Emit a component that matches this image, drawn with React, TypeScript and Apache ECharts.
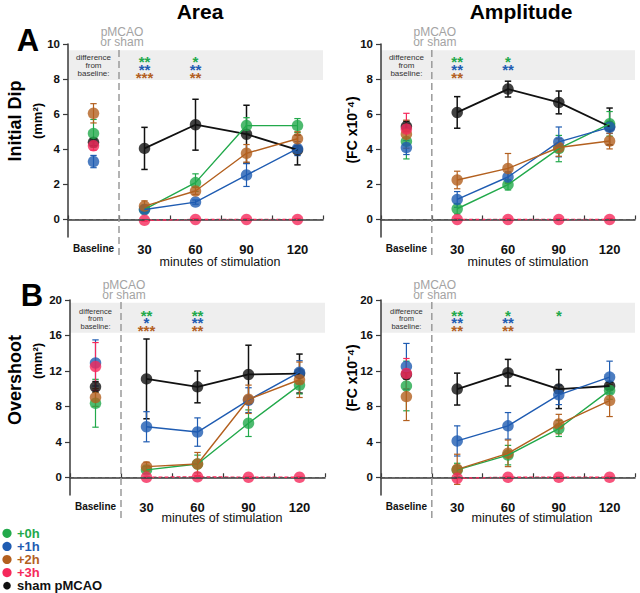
import React, { useEffect, useRef } from 'react';
import * as echarts from 'echarts';

// ---------- data ----------
const categories = ['Baseline', '30', '60', '90', '120'];
const yTicksDip = [0, 2, 4, 6, 8, 10];
const yTicksOvershoot = [0, 4, 8, 12, 16, 20];
const legendNames = ['+0h', '+1h', '+2h', '+3h', 'sham pMCAO'];

// A – Area, Initial Dip (mm²)
const areaDip0h = [4.9, 0.57, 2.1, 5.35, 5.35];
const areaDip0hErr = [0.8, 0.2, 0.5, 0.45, 0.4];
const areaDip1h = [3.3, 0.57, 0.99, 2.53, 4.04];
const areaDip1hErr = [0.35, 0.15, 0.12, 0.65, 0.4];
const areaDip2h = [6.05, 0.76, 1.62, 3.77, 4.6];
const areaDip2hErr = [0.55, 0.3, 0.2, 0.5, 0.4];
const areaDip3h = [4.2, -0.05, 0, 0, 0];
const areaDip3hErr = [0.25, 0.05, 0.05, 0.05, 0.05];
const areaDipSham = [4.4, 4.05, 5.4, 4.86, 3.96];
const areaDipShamErr = [0.2, 1.2, 1.45, 1.65, 0.85];

// A – Amplitude, Initial Dip (FC x10^-4)
const ampDip0h = [4.45, 0.61, 1.98, 4.04, 5.45];
const ampDip0hErr = [1.0, 0.3, 0.3, 0.75, 0.7];
const ampDip1h = [4.1, 1.14, 2.42, 4.42, 5.25];
const ampDip1hErr = [0.4, 0.45, 0.3, 0.85, 0.35];
const ampDip2h = [4.86, 2.25, 2.91, 4.1, 4.47];
const ampDip2hErr = [0.8, 0.5, 0.85, 0.5, 0.45];
const ampDip3h = [5.15, 0, 0, 0, 0];
const ampDip3hErr = [0.9, 0.05, 0.05, 0.05, 0.05];
const ampDipSham = [5.3, 6.1, 7.43, 6.67, 5.3];
const ampDipShamErr = [0.3, 0.9, 0.45, 0.65, 1.05];

// B – Area, Overshoot (mm²)
const areaOv0h = [8.35, 0.83, 1.5, 6.1, 10.4];
const areaOv0hErr = [2.7, 0.4, 1.0, 1.5, 1.0];
const areaOv1h = [12.9, 5.7, 5.1, 8.7, 11.85];
const areaOv1hErr = [2.6, 1.7, 1.6, 1.4, 1.3];
const areaOv2h = [9.0, 1.2, 1.5, 8.8, 11.0];
const areaOv2hErr = [1.0, 0.5, 1.3, 1.6, 2.0];
const areaOv3h = [12.5, 0, 0.05, 0, 0];
const areaOv3hErr = [2.7, 0.05, 0.05, 0.05, 0.05];
const areaOvSham = [10.2, 11.1, 10.2, 11.6, 11.7];
const areaOvShamErr = [0.6, 4.5, 1.8, 3.3, 2.2];

// B – Amplitude, Overshoot (FC x10^-4)
const ampOv0h = [10.3, 0.83, 2.5, 5.5, 9.8];
const ampOv0hErr = [2.8, 0.75, 1.1, 0.9, 1.0];
const ampOv1h = [12.5, 4.1, 5.8, 9.3, 11.3];
const ampOv1hErr = [2.6, 1.7, 1.5, 1.1, 1.8];
const ampOv2h = [9.1, 0.9, 2.7, 6.0, 8.65];
const ampOv2hErr = [2.7, 1.7, 1.5, 1.1, 1.8];
const ampOv3h = [11.7, -0.1, 0, 0, 0];
const ampOv3hErr = [1.7, 0.05, 0.05, 0.05, 0.05];
const ampOvSham = [11.6, 9.95, 11.8, 9.95, 10.3];
const ampOvShamErr = [0.5, 1.8, 1.5, 2.2, 0.4];

// significance vs baseline per category: rows = [+0h, +1h, +2h]
const areaDipStars: Record<number, string[]> = { 1: ['**', '**', '***'], 2: ['*', '**', '**'] };
const ampDipStars: Record<number, string[]> = { 1: ['**', '**', '**'], 2: ['*', '**', ''] };
const areaOvStars: Record<number, string[]> = { 1: ['**', '*', '***'], 2: ['**', '**', '**'] };
const ampOvStars: Record<number, string[]> = { 1: ['**', '**', '**'], 2: ['*', '**', '**'], 3: ['*', '', ''] };

// ---------- styles ----------
const FONT = '"Liberation Sans", Arial, Helvetica, sans-serif';
const C_SHAM = '#111111';
const C_0H = '#22a94b';
const C_1H = '#1f5cb2';
const C_2H = '#b3601f';
const C_3H = '#f5295b';
const groupColors = [C_0H, C_1H, C_2H, C_3H, C_SHAM];

type Panel = {
  left: number; top: number; width: number; height: number;
  min: number; max: number; ticks: number[]; band: [number, number];
  groups: [number[], number[]][]; // order: +0h,+1h,+2h,+3h,sham
  stars: Record<number, string[]>;
  rowY0: number; rowDy: number;
};

const panels: Panel[] = [
  {
    left: 68, top: 44, width: 255, height: 193, min: -1, max: 10, ticks: yTicksDip, band: [7.95, 9.65],
    groups: [[areaDip0h, areaDip0hErr], [areaDip1h, areaDip1hErr], [areaDip2h, areaDip2hErr], [areaDip3h, areaDip3hErr], [areaDipSham, areaDipShamErr]],
    stars: areaDipStars, rowY0: 57, rowDy: 8,
  },
  {
    left: 381, top: 44, width: 254, height: 193, min: -1, max: 10, ticks: yTicksDip, band: [7.95, 9.65],
    groups: [[ampDip0h, ampDip0hErr], [ampDip1h, ampDip1hErr], [ampDip2h, ampDip2hErr], [ampDip3h, ampDip3hErr], [ampDipSham, ampDipShamErr]],
    stars: ampDipStars, rowY0: 57, rowDy: 8,
  },
  {
    left: 70, top: 300, width: 255, height: 195, min: -2, max: 20, ticks: yTicksOvershoot, band: [16.3, 19.7],
    groups: [[areaOv0h, areaOv0hErr], [areaOv1h, areaOv1hErr], [areaOv2h, areaOv2hErr], [areaOv3h, areaOv3hErr], [areaOvSham, areaOvShamErr]],
    stars: areaOvStars, rowY0: 311, rowDy: 7.5,
  },
  {
    left: 381, top: 300, width: 254, height: 195, min: -2, max: 20, ticks: yTicksOvershoot, band: [16.3, 19.7],
    groups: [[ampOv0h, ampOv0hErr], [ampOv1h, ampOv1hErr], [ampOv2h, ampOv2hErr], [ampOv3h, ampOv3hErr], [ampOvSham, ampOvShamErr]],
    stars: ampOvStars, rowY0: 311, rowDy: 7.5,
  },
];

function errorSeries(name: string, idx: number, values: number[], errs: number[], color: string, lw: number) {
  return {
    type: 'custom',
    name,
    xAxisIndex: idx,
    yAxisIndex: idx,
    silent: true,
    data: values.map((v, i) => [i, v, errs[i]]),
    encode: { x: 0, y: 1 },
    renderItem: (_params: any, api: any) => {
      const i = api.value(0);
      const v = api.value(1);
      const e = api.value(2);
      const top = api.coord([i, v + e]);
      const bot = api.coord([i, v - e]);
      const cap = 3.2;
      const style = { stroke: color, lineWidth: lw };
      return {
        type: 'group',
        children: [
          { type: 'line', shape: { x1: top[0], y1: top[1], x2: bot[0], y2: bot[1] }, style },
          { type: 'line', shape: { x1: top[0] - cap, y1: top[1], x2: top[0] + cap, y2: top[1] }, style },
          { type: 'line', shape: { x1: bot[0] - cap, y1: bot[1], x2: bot[0] + cap, y2: bot[1] }, style },
        ],
      };
    },
  };
}

function buildOption() {
  const grid: any[] = [];
  const xAxis: any[] = [];
  const yAxis: any[] = [];
  const series: any[] = [];
  const graphic: any[] = [];

  panels.forEach((p, idx) => {
    grid.push({ left: p.left, top: p.top, width: p.width, height: p.height, containLabel: false, outerBoundsMode: 'none' });
    xAxis.push({
      type: 'category',
      gridIndex: idx,
      data: categories,
      boundaryGap: true,
      z: 3,
      axisLine: { lineStyle: { color: '#3a3a3a', width: 1.5 } },
      axisTick: { show: true, inside: true, length: 4, interval: 0, lineStyle: { color: '#3a3a3a', width: 1.2 } },
      axisLabel: {
        interval: 0,
        margin: 6,
        formatter: (v: string) => (v === 'Baseline' ? `{b|${v}}` : `{n|${v}}`),
        rich: {
          b: { fontFamily: FONT, fontSize: 10, fontWeight: 'bold', color: '#111' },
          n: { fontFamily: FONT, fontSize: 13, fontWeight: 'bold', color: '#111' },
        },
      },
      splitLine: { show: false },
    });
    yAxis.push({
      type: 'value',
      gridIndex: idx,
      min: p.min,
      max: p.max,
      z: 3,
      axisLine: { show: true, lineStyle: { color: '#3a3a3a', width: 1.5 } },
      axisTick: { show: true, length: 5, customValues: p.ticks, lineStyle: { color: '#3a3a3a', width: 1.2 } },
      axisLabel: { customValues: p.ticks, margin: 8, fontFamily: FONT, fontSize: 11.5, fontWeight: 'bold', color: '#111' },
      splitLine: { show: false },
    });

    // helper: grey significance band + dashed zero line
    series.push({
      type: 'line',
      name: 'helper' + idx,
      xAxisIndex: idx,
      yAxisIndex: idx,
      data: [],
      silent: true,
      z: 1,
      markArea: {
        silent: true,
        itemStyle: { color: '#eeeeee' },
        data: [[{ yAxis: p.band[1] }, { yAxis: p.band[0] }]],
      },
      markLine: {
        silent: true,
        symbol: 'none',
        label: { show: false },
        lineStyle: { color: '#555555', type: [4, 3], width: 1 },
        data: [{ yAxis: 0 }],
      },
    });

    // draw order: sham first, then +0h, +1h, +2h, +3h
    const order = [4, 0, 1, 2, 3];
    order.forEach((g) => {
      const [vals, errs] = p.groups[g];
      const color = groupColors[g];
      const name = legendNames[g];
      const isSham = g === 4;
      const isRed = g === 3;
      series.push(errorSeries(name, idx, vals, errs, color, isSham ? 1.5 : 1.2));
      series.push({
        type: 'line',
        name,
        xAxisIndex: idx,
        yAxisIndex: idx,
        data: vals.map((v, i) => (i === 0 ? '-' : v)),
        showSymbol: false,
        silent: true,
        lineStyle: { color, width: isSham ? 1.8 : 1.4, type: isRed ? [4, 2] : 'solid' },
        itemStyle: { color },
      });
      series.push({
        type: 'scatter',
        name,
        xAxisIndex: idx,
        yAxisIndex: idx,
        data: vals,
        symbol: 'circle',
        symbolSize: 11.5,
        itemStyle: { color },
      });
    });

    const catW = p.width / categories.length;
    const cx = (i: number) => p.left + catW * (i + 0.5);
    const sepX = p.left + catW;
    const isTop = idx < 2;

    // vertical dashed separator ("pMCAO or sham")
    graphic.push({
      type: 'line',
      z: 10,
      shape: { x1: sepX, y1: isTop ? 50 : 302, x2: sepX, y2: isTop ? 258 : 521 },
      style: { stroke: '#9a9a9a', lineWidth: 1.5, lineDash: [7, 4] },
    });
    graphic.push({
      type: 'text',
      z: 10,
      x: sepX + 3,
      y: isTop ? 37 : 290,
      style: {
        text: 'pMCAO\nor sham',
        fill: '#a3a3a3',
        font: `12px ${FONT}`,
        lineHeight: 10.5,
        align: 'center',
        verticalAlign: 'middle',
      },
    });
    graphic.push({
      type: 'text',
      z: 10,
      x: cx(0),
      y: p.rowY0 + p.rowDy,
      style: {
        text: 'difference\nfrom\nbaseline:',
        fill: '#333',
        font: `${p.rowDy}px ${FONT}`,
        lineHeight: p.rowDy,
        align: 'center',
        verticalAlign: 'middle',
      },
    });
    // significance stars: one multi-line rich text per column
    Object.keys(p.stars).forEach((k) => {
      const cat = Number(k);
      const rows = p.stars[cat];
      const text = rows.map((s, r) => (s ? `{r${r}|${s}}` : `{r${r}| }`)).join('\n');
      const rich: any = {};
      [0, 1, 2].forEach((r) => {
        rich['r' + r] = {
          fill: groupColors[r],
          color: groupColors[r],
          fontFamily: FONT,
          fontSize: 15,
          fontWeight: 'bold',
          lineHeight: p.rowDy,
          height: p.rowDy,
        };
      });
      graphic.push({
        type: 'text',
        z: 10,
        x: cx(cat),
        y: p.rowY0 - p.rowDy / 2 + 4,
        style: { text, rich, align: 'center', verticalAlign: 'top' },
      });
    });
    // x-axis title
    graphic.push({
      type: 'text',
      z: 10,
      x: idx % 2 === 0 ? (idx === 0 ? 220 : 222) : (idx === 1 ? 528 : 532),
      y: isTop ? 262 : 518,
      style: {
        text: 'minutes of stimulation',
        fill: '#111',
        font: `12.5px ${FONT}`,
        align: 'center',
        verticalAlign: 'middle',
      },
    });
  });

  // column titles & panel letters
  const txt = (text: string, x: number, y: number, font: string, rotation = 0, fill = '#000', align = 'center') => ({
    type: 'text',
    z: 10,
    x,
    y,
    rotation,
    style: { text, fill, font, align, verticalAlign: 'middle' },
  });
  graphic.push(txt('Area', 200, 11, `bold 21px ${FONT}`));
  graphic.push(txt('Amplitude', 521, 11, `bold 21px ${FONT}`));
  graphic.push(txt('A', 28, 40, `bold 31px ${FONT}`));
  graphic.push(txt('B', 32, 295, `bold 31px ${FONT}`));
  graphic.push(txt('Initial Dip', 15, 121, `bold 18px ${FONT}`, Math.PI / 2));
  graphic.push(txt('(mm²)', 37, 121, `bold 13px ${FONT}`, Math.PI / 2));
  graphic.push(txt('Overshoot', 15, 380, `bold 18px ${FONT}`, Math.PI / 2));
  graphic.push(txt('(mm²)', 37, 361, `bold 13px ${FONT}`, Math.PI / 2));
  graphic.push(txt('(FC x10⁻⁴)', 352, 130, `bold 14px ${FONT}`, Math.PI / 2));
  graphic.push(txt('(FC x10⁻⁴)', 352, 378, `bold 14px ${FONT}`, Math.PI / 2));

  // legend (bottom-left)
  legendNames.forEach((n, i) => {
    const y = 533.3 + i * 13.1;
    const isSham = i === 4;
    graphic.push({
      type: 'circle',
      z: 10,
      shape: { cx: 7, cy: y, r: isSham ? 3.8 : 4.6 },
      style: { fill: groupColors[i] },
    });
    graphic.push(txt(n, 17, y, `bold 13px ${FONT}`, 0, groupColors[i], 'left'));
  });

  return {
    animation: false,
    backgroundColor: '#ffffff',
    textStyle: { fontFamily: FONT },
    grid,
    xAxis,
    yAxis,
    series,
    graphic: { elements: graphic },
  };
}

export default function App() {
  const ref = useRef<HTMLDivElement>(null);
  useEffect(() => {
    if (!ref.current) return;
    const chart = echarts.init(ref.current, undefined, { renderer: 'svg' });
    chart.setOption(buildOption() as any);
    return () => chart.dispose();
  }, []);
  return (
    <div
      ref={ref}
      style={{ position: 'fixed', left: 0, top: 0, width: 640, height: 593, background: '#fff' }}
    />
  );
}
